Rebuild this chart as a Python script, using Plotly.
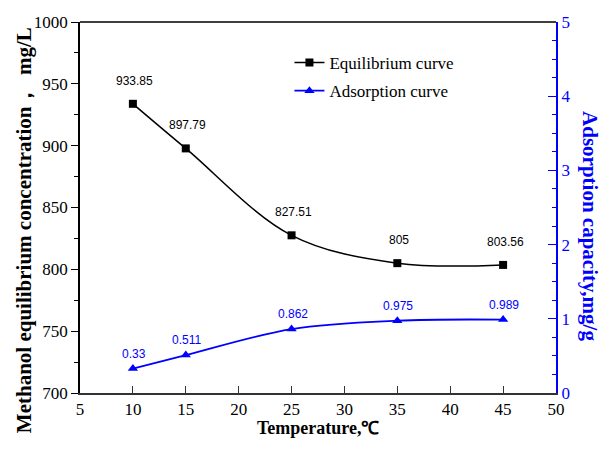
import plotly.graph_objects as go

temps = [10, 15, 25, 35, 45]
equilibrium = [933.85, 897.79, 827.51, 805, 803.56]
equilibrium_labels = ["933.85", "897.79", "827.51", "805", "803.56"]
adsorption = [0.33, 0.511, 0.862, 0.975, 0.989]
adsorption_labels = ["0.33", "0.511", "0.862", "0.975", "0.989"]

BLUE = "#0000ff"
serif = "Liberation Serif, Times New Roman, serif"
sans = "Liberation Sans, Arial, sans-serif"

fig = go.Figure()
fig.add_trace(go.Scatter(
    x=temps, y=equilibrium, name="Equilibrium curve", legendgroup="a",
    mode="lines+markers", line=dict(color="black", width=1.5, shape="spline", smoothing=1),
    marker=dict(symbol="square", size=8, color="black"), yaxis="y"))
fig.add_trace(go.Scatter(
    x=temps, y=adsorption, name="Adsorption curve", legendgroup="b",
    mode="lines+markers", line=dict(color=BLUE, width=1.8, shape="spline", smoothing=1),
    marker=dict(symbol="triangle-up", size=9, color=BLUE), yaxis="y2"))

for x, y, t in zip(temps, equilibrium, equilibrium_labels):
    fig.add_annotation(x=x, y=y, text=t, showarrow=False, xref="x", yref="y",
                       yshift=23, xshift=2, font=dict(family=sans, size=12, color="black"))
for x, y, t in zip(temps, adsorption, adsorption_labels):
    fig.add_annotation(x=x, y=y, text=t, showarrow=False, xref="x", yref="y2",
                       yshift=15, xshift=1, font=dict(family=sans, size=12, color=BLUE))

# axis titles
fig.add_annotation(xref="paper", yref="paper", x=-0.1176, y=0.439, showarrow=False,
                   xanchor="center", yanchor="middle",
                   textangle=-90, text="<b>Methanol equilibrium concentration，  mg/L</b>",
                   font=dict(family=serif, size=21, color="black"))
fig.add_annotation(xref="paper", yref="paper", x=1.0714, y=0.450, showarrow=False,
                   xanchor="center", yanchor="middle",
                   textangle=90, text="<b>Adsorption capacity,mg/g</b>",
                   font=dict(family=serif, size=21, color=BLUE))
fig.add_annotation(xref="paper", yref="paper", x=0.5, y=-0.0943, showarrow=False,
                   xanchor="center", yanchor="middle",
                   text="<b>Temperature,℃</b>",
                   font=dict(family=serif, size=18, color="black"))

fig.update_layout(
    width=603, height=457,
    margin=dict(l=80, r=47, t=22, b=64),
    paper_bgcolor="white", plot_bgcolor="white",
    showlegend=True,
    legend=dict(x=0.44, y=0.938, xanchor="left", yanchor="top",
                bgcolor="rgba(0,0,0,0)", font=dict(family=serif, size=17, color="black"),
                tracegroupgap=3),
    xaxis=dict(range=[5, 50], tickvals=[5, 10, 15, 20, 25, 30, 35, 40, 45, 50],
               ticks="inside", ticklen=7, tickcolor="#333", showline=True, linecolor="#333",
               linewidth=1.5, showgrid=False, zeroline=False, mirror=False,
               tickfont=dict(family=serif, size=17, color="black")),
    yaxis=dict(range=[700, 1000], tickvals=[700, 750, 800, 850, 900, 950, 1000],
               ticks="outside", ticklen=7, tickcolor="black", showline=True, linecolor="black",
               linewidth=1.5, showgrid=False, zeroline=False,
               minor=dict(ticks="outside", ticklen=4, dtick=25, tickcolor="black"),
               tickfont=dict(family=serif, size=17, color="black")),
    yaxis2=dict(range=[0, 5], tickvals=[0, 1, 2, 3, 4, 5], overlaying="y", side="right",
                ticks="inside", ticklen=8, tickcolor=BLUE, showline=True, linecolor=BLUE,
                linewidth=2, showgrid=False, zeroline=False,
                minor=dict(ticks="inside", ticklen=4, dtick=0.25, tickcolor=BLUE),
                tickfont=dict(family=serif, size=17, color=BLUE)),
)
# top border line
fig.add_shape(type="line", xref="paper", yref="paper", x0=0, x1=1, y0=1, y1=1,
              line=dict(color="black", width=1.5))

fig.write_html("out.html")
